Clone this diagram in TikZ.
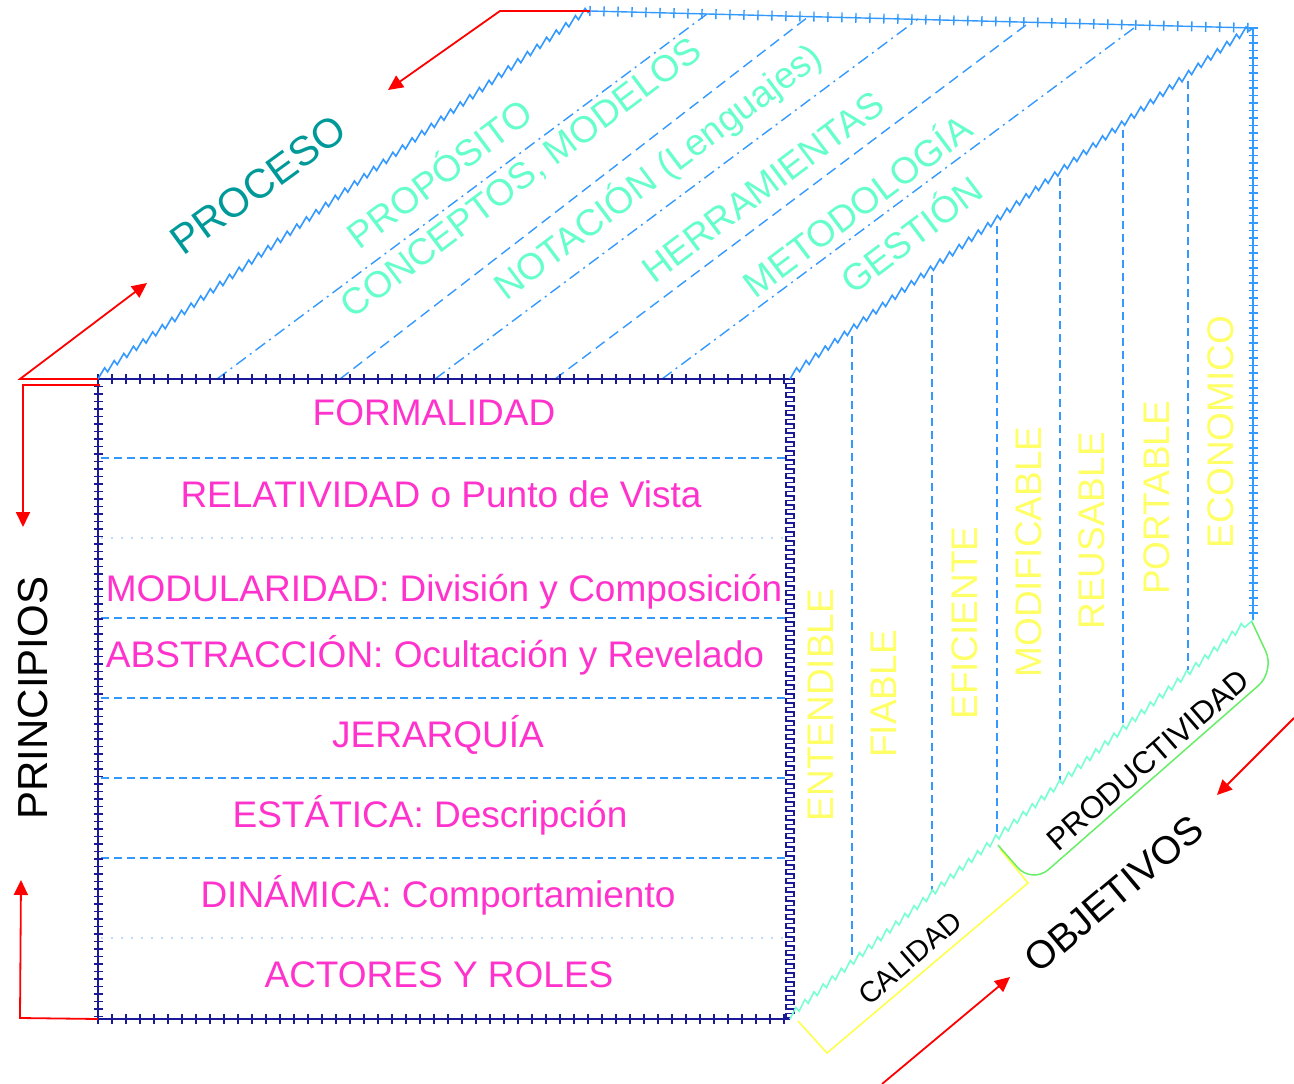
\documentclass[tikz,border=0pt]{standalone}
\usepackage{fontspec}
\setmainfont{Liberation Sans}
\usepackage{xcolor}
\usetikzlibrary{positioning,arrows.meta,decorations.pathmorphing,decorations.pathreplacing}

\definecolor{pinktext}{RGB}{255,51,204}
\definecolor{aquatext}{RGB}{102,255,204}
\definecolor{tealtext}{RGB}{0,153,153}
\definecolor{yellowtext}{RGB}{255,255,102}
\definecolor{edgeblue}{RGB}{51,153,255}
\definecolor{edgenavy}{RGB}{26,26,153}
\definecolor{edgeaqua}{RGB}{120,255,210}
\definecolor{bracketgreen}{RGB}{102,238,102}
\definecolor{bracketyellow}{RGB}{255,255,68}

\newcommand{\faceFont}{\fontsize{37}{40}\selectfont}
\newcommand{\axisFont}{\fontsize{42}{46}\selectfont}

% square teeth for the front right edge
\pgfdeclaredecoration{squarewave}{init}{
  \state{init}[width=\pgfdecorationsegmentlength]{
    \pgfpathlineto{\pgfpoint{0pt}{\pgfdecorationsegmentamplitude}}
    \pgfpathlineto{\pgfpoint{0.5\pgfdecorationsegmentlength}{\pgfdecorationsegmentamplitude}}
    \pgfpathlineto{\pgfpoint{0.5\pgfdecorationsegmentlength}{-\pgfdecorationsegmentamplitude}}
    \pgfpathlineto{\pgfpoint{\pgfdecorationsegmentlength}{-\pgfdecorationsegmentamplitude}}
    \pgfpathlineto{\pgfpoint{\pgfdecorationsegmentlength}{0pt}}
  }
  \state{final}{\pgfpathlineto{\pgfpointdecoratedpathlast}}
}

\begin{document}
\begin{tikzpicture}[x=1pt,y=-1pt,
    arrowstyle/.style={-{Triangle[length=15pt,width=14pt]}, red, line width=1.8pt},
    principio/.style={text=pinktext, font=\faceFont, inner sep=0pt, anchor=base},
    actividad/.style={text=aquatext, font=\faceFont, inner sep=0pt, rotate=37},
    cualidad/.style={text=yellowtext, font=\faceFont, inner sep=0pt, rotate=90}]
  \useasboundingbox (0,0) rectangle (1294,1084);

  % Edge styles
  \tikzstyle{navyline} = [edgenavy, line width=1.6pt]
  \tikzstyle{navyticks} = [edgenavy, line width=1.4pt, decorate, decoration={ticks, segment length=14pt, amplitude=5pt}]
  \tikzstyle{navyladder} = [edgenavy, line width=1.4pt, decorate, decoration={ticks, segment length=7.5pt, amplitude=4.5pt}]
  \tikzstyle{blueline} = [edgeblue, line width=1.4pt]
  \tikzstyle{bluesaw} = [edgeblue, line width=1.6pt, decorate, decoration={saw, segment length=12pt, amplitude=5pt}]
  \tikzstyle{blueticks} = [edgeblue, line width=1.4pt, decorate, decoration={ticks, segment length=14pt, amplitude=5pt}]
  \tikzstyle{blueladder} = [edgeblue, line width=1.4pt, decorate, decoration={ticks, segment length=7.5pt, amplitude=4.5pt}]
  \tikzstyle{rowline} = [edgeblue, dash pattern=on 8pt off 5pt, line width=1.4pt]
  \tikzstyle{faintline} = [edgeblue!35, dash pattern=on 2pt off 8pt, line width=1.4pt]
  \tikzstyle{topdash} = [edgeblue, dash pattern=on 11pt off 6pt, line width=1.4pt]
  \tikzstyle{topdashdot} = [edgeblue, dash pattern=on 12pt off 5pt on 2pt off 5pt, line width=1.4pt]

  % Corners of the cube
  \coordinate (FTL) at (98,379);
  \coordinate (FTR) at (790,379);
  \coordinate (FBL) at (98,1019);
  \coordinate (FBR) at (790,1019);
  \coordinate (BTL) at (590,11);
  \coordinate (BTR) at (1253,28);
  \coordinate (BBR) at (1253,620);

  % Inner lines of the faces
  \foreach \y in {458,618,698,778,858}
    \draw[rowline] (101,\y) -- (786,\y);
  \foreach \y in {538,938}
    \draw[faintline] (101,\y) -- (786,\y);
  \foreach \a/\b/\c in {217/707/14,435/918/19,662/1138/25}
    \draw[topdashdot] (\a,379) -- (\b,\c);
  \foreach \a/\b/\c in {340/808/17,555/1030/22}
    \draw[topdash] (\a,379) -- (\b,\c);
  \foreach \x/\t/\b in {852/336/958,932/275/890,997/226/834,1060/178/780,1123/130/726,1188/81/670}
    \draw[rowline] (\x,\t) -- (\x,\b);

  % Front face
  \draw[navyline] (FTL) -- (FTR);
  \draw[navyticks] (FTL) -- (FTR);
  \draw[navyline] (FBL) -- (FBR);
  \draw[navyticks] (FBL) -- (FBR);
  \draw[navyline] (FTL) -- (FBL);
  \draw[navyladder] (FTL) -- (FBL);
  \draw[navyline, line width=1.4pt, decorate, decoration={squarewave, segment length=9pt, amplitude=4pt}] (FTR) -- (FBR);

  % Top and right faces
  \draw[bluesaw] (FTL) -- (BTL);
  \draw[bluesaw] (FTR) -- (BTR);
  \draw[blueline] (BTL) -- (BTR);
  \draw[blueticks] (BTL) -- (BTR);
  \draw[blueline] (BTR) -- (BBR);
  \draw[blueladder] (BTR) -- (BBR);
  \draw[edgeaqua, line width=1.6pt, decorate, decoration={saw, segment length=12pt, amplitude=5pt}] (FBR) -- (BBR);

  % Brackets under the right face
  \coordinate (calA) at (798,1021);
  \coordinate (calB) at (827,1053);
  \coordinate (calC) at (1028,883);
  \coordinate (calD) at (1000,849);
  \draw[bracketyellow, line width=1.5pt] (calA) -- (calB) -- (calC) -- (calD);
  \coordinate (proA) at (998,845);
  \coordinate (proB) at (1032,884);
  \coordinate (proC) at (1275,671);
  \coordinate (proD) at (1252,622);
  \draw[bracketgreen, line width=1.5pt, rounded corners=22pt] (proA) -- (proB) -- (proC) -- (proD);

  % Principios (front)
  \node[principio] (formalidad)   at (434,425) {FORMALIDAD};
  \node[principio] (relatividad)  at (441,507) {RELATIVIDAD o Punto de Vista};
  \node[principio] (modularidad)  at (444,601) {MODULARIDAD: División y Composición};
  \node[principio] (abstraccion)  at (435,667) {ABSTRACCIÓN: Ocultación y Revelado};
  \node[principio] (jerarquia)    at (438,747) {JERARQUÍA};
  \node[principio] (estatica)     at (430,827) {ESTÁTICA: Descripción};
  \node[principio] (dinamica)     at (438,907) {DINÁMICA: Comportamiento};
  \node[principio] (actores)      at (439,987) {ACTORES Y ROLES};

  % Proceso (top)
  \node[actividad] (proposito)    at (438,172) {PROPÓSITO};
  \node[actividad] (conceptos)    at (522,179) {CONCEPTOS, MODELOS};
  \node[actividad] (notacion)     at (658,172) {NOTACIÓN (Lenguajes)};
  \node[actividad] (herramientas) at (763,187) {HERRAMIENTAS};
  \node[actividad] (metodologia)  at (856,204) {METODOLOGÍA};
  \node[actividad] (gestion)      at (910,233) {GESTIÓN};

  % Objetivos (right)
  \node[cualidad] (entendible)  at (821,705) {ENTENDIBLE};
  \node[cualidad] (fiable)      at (884,694) {FIABLE};
  \node[cualidad] (eficiente)   at (965,623) {EFICIENTE};
  \node[cualidad] (modificable) at (1029,552) {MODIFICABLE};
  \node[cualidad] (reusable)    at (1092,531) {REUSABLE};
  \node[cualidad] (portable)    at (1157,498) {PORTABLE};
  \node[cualidad] (economico)   at (1221,432) {ECONOMICO};

  % Axis names
  \node[rotate=90, font=\axisFont, inner sep=0pt] (principios) at (33,698) {PRINCIPIOS};
  \node[rotate=36, font=\fontsize{41}{44}\selectfont, text=tealtext, inner sep=0pt] (proceso) at (258,185) {PROCESO};
  \node[rotate=40, font=\fontsize{39}{42}\selectfont, inner sep=0pt] (objetivos) at (1114,894) {OBJETIVOS};
  \node[rotate=41, font=\fontsize{29}{32}\selectfont, inner sep=0pt] (calidad) at (910,958) {CALIDAD};
  \node[rotate=41, font=\fontsize{31}{34}\selectfont, inner sep=0pt] (productividad) at (1148,760) {PRODUCTIVIDAD};

  % Red arrows
  \coordinate (procBend) at (500,11);
  \coordinate (procTip)  at (388,90);
  \coordinate (leftBend) at (20,379);
  \coordinate (leftTip)  at (147,283);
  \coordinate (prinStart) at (100,385);
  \coordinate (prinBend)  at (23,385);
  \coordinate (prinTip)   at (23,527);
  \coordinate (prinBend2) at (20,1018);
  \coordinate (prinTip2)  at (21,880);
  \coordinate (objStart)  at (882,1084);
  \coordinate (objTip)    at (1010,977);
  \coordinate (objStart2) at (1294,718);
  \coordinate (objTip2)   at (1217,795);
  \draw[arrowstyle] (BTL) -- (procBend) -- (procTip);
  \draw[arrowstyle] (FTL) -- (leftBend) -- (leftTip);
  \draw[arrowstyle] (prinStart) -- (prinBend) -- (prinTip);
  \draw[arrowstyle] (FBL) -- (prinBend2) -- (prinTip2);
  \draw[arrowstyle] (objStart) -- (objTip);
  \draw[arrowstyle] (objStart2) -- (objTip2);
\end{tikzpicture}
\end{document}
